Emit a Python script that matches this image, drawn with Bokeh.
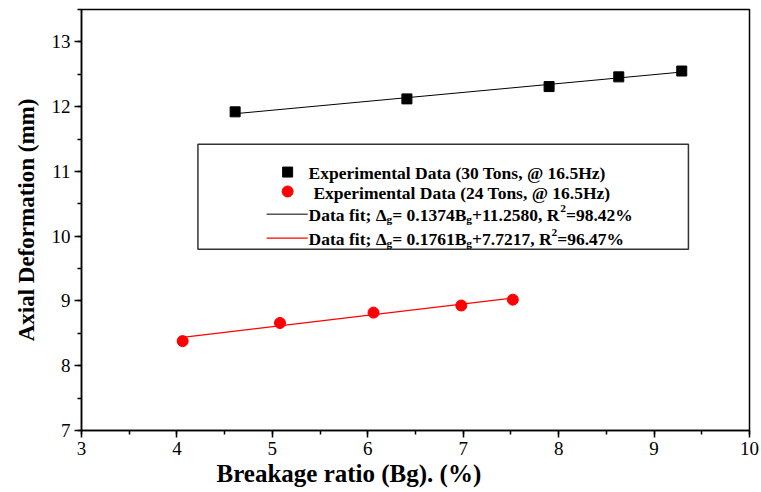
from bokeh.plotting import figure
from bokeh.models import Range1d, SingleIntervalTicker, BoxAnnotation, Label, Title
from bokeh.embed import file_html
from bokeh.resources import INLINE

# ---- data ----
bg_30 = [4.61, 6.41, 7.90, 8.63, 9.29]
def_30 = [11.92, 12.12, 12.31, 12.46, 12.55]
bg_24 = [4.06, 5.08, 6.06, 6.98, 7.52]
def_24 = [8.38, 8.66, 8.82, 8.93, 9.02]
fit_30 = (0.1374, 11.2580)
fit_24 = (0.1761, 7.7217)
x_ticks = [3, 4, 5, 6, 7, 8, 9, 10]
y_ticks = [7, 8, 9, 10, 11, 12, 13]

FONT = "Liberation Serif"

p = figure(width=761, height=492, output_backend="svg", toolbar_location=None,
           x_range=Range1d(3, 10), y_range=Range1d(7, 13.5),
           min_border_left=81, min_border_right=12, min_border_top=9, min_border_bottom=62)
p.grid.visible = False
p.outline_line_color = "black"
p.outline_line_width = 1.5
p.background_fill_color = "white"

for ax in (p.xaxis[0], p.yaxis[0]):
    ax.ticker = SingleIntervalTicker(interval=1, num_minor_ticks=2)
    ax.major_tick_out = 7
    ax.major_tick_in = 0
    ax.minor_tick_out = 4
    ax.minor_tick_in = 0
    ax.axis_line_width = 1.5
    ax.major_tick_line_width = 1.5
    ax.minor_tick_line_width = 1.5
    ax.axis_line_color = "black"
    ax.major_label_text_font = FONT
    ax.major_label_text_font_size = "19px"
    ax.major_label_text_color = "black"
    ax.axis_label_text_font = FONT
    ax.axis_label_text_font_style = "bold"
    ax.axis_label_text_color = "black"

p.yaxis.axis_label = "Axial Deformation (mm)"
p.yaxis.axis_label_text_font_size = "23px"
p.yaxis.axis_label_standoff = 10
p.xaxis.major_label_standoff = 4
p.yaxis.major_label_standoff = 4

# x-axis title (offset to the left like the original)
p.add_layout(Title(text="Breakage ratio (Bg). (%)", align="left", offset=135,
                   text_font=FONT, text_font_style="bold", text_font_size="25px",
                   text_color="black", standoff=0), "below")

# fit lines
fx30 = [bg_30[0], bg_30[-1]]
p.line(fx30, [fit_30[0] * v + fit_30[1] for v in fx30], line_color="black", line_width=1)
fx24 = [bg_24[0], bg_24[-1]]
p.line(fx24, [fit_24[0] * v + fit_24[1] for v in fx24], line_color="red", line_width=1.2)

p.scatter(bg_30, def_30, marker="square", size=10, fill_color="black", line_color="black")
p.scatter(bg_24, def_24, marker="circle", size=11, fill_color="red", line_color="red")

# ---- custom legend ----
p.add_layout(BoxAnnotation(left=4.22, right=9.36, bottom=9.80, top=11.42,
                           fill_color="white", fill_alpha=1.0,
                           line_color="#333333", line_alpha=1.0, line_width=1.5,
                           level="underlay"))

W = {' ': .25, '(': .333, ')': .333, '%': 1.0, '+': .57, ',': .25, '.': .25, ';': .333,
     '=': .57, '@': .93, 'A': .722, 'B': .667, 'D': .722, 'E': .667, 'H': .778, 'R': .722,
     'T': .667, 'a': .5, 'e': .444, 'f': .333, 'g': .5, 'i': .278, 'l': .278, 'm': .833,
     'n': .556, 'o': .5, 'p': .556, 'r': .444, 's': .389, 't': .333, 'x': .5, 'z': .444,
     'Δ': .62}
FS = 17.5

def tw(s, size):
    return sum(W.get(c, 0.5) for c in s) * size

def rich(x, y, segs):
    off = 0.0
    for txt, kind in segs:
        size = FS if kind == "n" else FS * 0.65
        dy = {"n": -1, "sub": -5, "sup": 6}[kind]
        p.add_layout(Label(x=x, y=y, x_offset=off, y_offset=dy, text=txt,
                           text_font=FONT, text_font_style="bold",
                           text_font_size=f"{size:.1f}px", text_color="black",
                           text_baseline="alphabetic", level="overlay"))
        off += tw(txt, size)

# legend rows (data coords)
rows_y = [10.99, 10.69, 10.34, 9.97]
p.scatter([5.16], [rows_y[0]], marker="square", size=10, fill_color="black",
          line_color="black")
p.scatter([5.16], [rows_y[1]], marker="circle", size=11, fill_color="red",
          line_color="red")
p.line([4.94, 5.37], [rows_y[2], rows_y[2]], line_color="black", line_width=1)
p.line([4.94, 5.37], [rows_y[3], rows_y[3]], line_color="red", line_width=1.2)

rich(5.38, rows_y[0], [("Experimental Data (30 Tons, @ 16.5Hz)", "n")])
rich(5.43, rows_y[1], [("Experimental Data (24 Tons, @ 16.5Hz)", "n")])
rich(5.38, rows_y[2], [("Data fit; Δ", "n"), ("g", "sub"), ("= %.4fB" % fit_30[0], "n"),
                       ("g", "sub"), ("+%.4f, R" % fit_30[1], "n"), ("2", "sup"),
                       ("=98.42%", "n")])
rich(5.38, rows_y[3], [("Data fit; Δ", "n"), ("g", "sub"), ("= %.4fB" % fit_24[0], "n"),
                       ("g", "sub"), ("+%.4f, R" % fit_24[1], "n"), ("2", "sup"),
                       ("=96.47%", "n")])

open("out.html", "w").write(file_html(p, INLINE))
